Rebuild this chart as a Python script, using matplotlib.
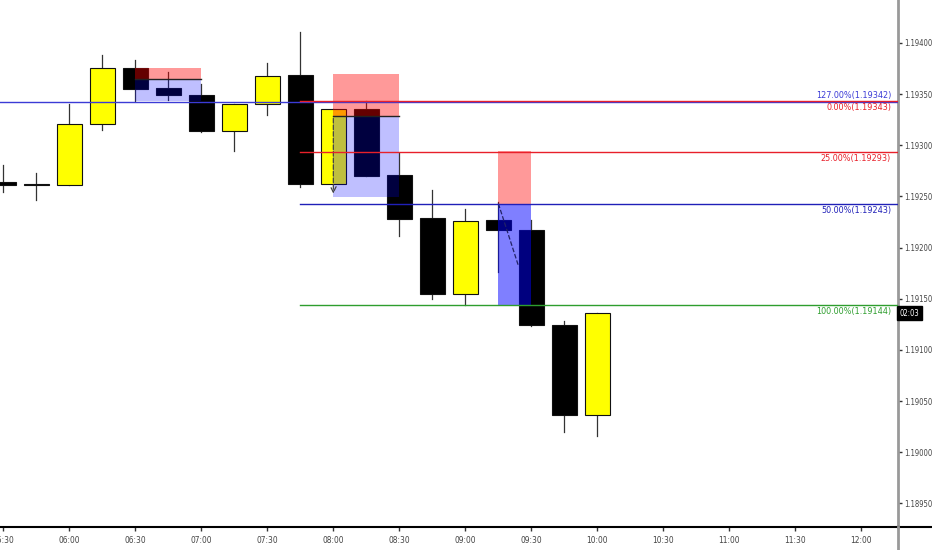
import matplotlib
matplotlib.use('Agg')
import matplotlib.pyplot as plt
from matplotlib.patches import Rectangle
from matplotlib.lines import Line2D

plt.rcParams['font.family'] = ['DejaVu Sans']
plt.rcParams['font.stretch'] = 'condensed'

# 15 minute candles
times = ['05:30', '05:45', '06:00', '06:15', '06:30', '06:45', '07:00', '07:15', '07:30', '07:45',
         '08:00', '08:15', '08:30', '08:45', '09:00', '09:15', '09:30', '09:45', '10:00']
opens = [1.19264, 1.19262, 1.19261, 1.19321, 1.19376, 1.19356, 1.19349, 1.19314, 1.19340, 1.19369,
         1.19262, 1.19335, 1.19271, 1.19229, 1.19155, 1.19227, 1.19217, 1.19124, 1.19036]
highs = [1.19281, 1.19273, 1.19340, 1.19388, 1.19383, 1.19372, 1.19360, 1.19340, 1.19380, 1.19411,
         1.19335, 1.19343, 1.19292, 1.19256, 1.19238, 1.19245, 1.19227, 1.19128, 1.19136]
lows = [1.19254, 1.19247, 1.19261, 1.19315, 1.19343, 1.19344, 1.19313, 1.19294, 1.19330, 1.19259,
        1.19262, 1.19270, 1.19211, 1.19150, 1.19144, 1.19176, 1.19123, 1.19020, 1.19016]
closes = [1.19261, 1.19261, 1.19321, 1.19376, 1.19355, 1.19349, 1.19314, 1.19340, 1.19368, 1.19262,
          1.19335, 1.19270, 1.19228, 1.19155, 1.19226, 1.19217, 1.19124, 1.19036, 1.19136]

tick_labels = ['05:30', '06:00', '06:30', '07:00', '07:30', '08:00', '08:30', '09:00',
               '09:30', '10:00', '10:30', '11:00', '11:30', '12:00']
price_ticks = [1.18950, 1.19000, 1.19050, 1.19100, 1.19150, 1.19200, 1.19250, 1.19300, 1.19350, 1.19400]

# fib levels (anchored at 07:45)
fib_anchor = '07:45'
fib_levels = [1.19342, 1.19343, 1.19293, 1.19243, 1.19144]
fib_labels = ['127.00%(1.19342)', '0.00%(1.19343)', '25.00%(1.19293)', '50.00%(1.19243)', '100.00%(1.19144)']

# short position tools
pos_start = ['06:30', '08:00', '09:15']
pos_end = ['07:00', '08:30', '09:30']
pos_entry = [1.19365, 1.19329, 1.19243]
pos_stop = [1.19376, 1.19370, 1.19294]
pos_target = [1.19343, 1.19249, 1.19143]

countdown = '02:03'


def idx(t):  # time string -> candle index
    h, m = t.split(':')
    return (int(h) * 60 + int(m) - 330) / 15.0


fig = plt.figure(figsize=(9.32, 5.5), dpi=100)
ax = fig.add_axes([0, 0.0424, 0.9632, 0.9576])

w = 0.76
for i in range(len(times)):
    x = idx(times[i])
    o, h, l, c = opens[i], highs[i], lows[i], closes[i]
    ax.plot([x, x], [l, h], color='#333333', lw=0.9, zorder=2)
    col = '#ffff00' if c > o else '#000000'
    bot = min(o, c)
    hgt = max(abs(c - o), 0.000015)
    ax.add_patch(Rectangle((x - w / 2, bot), w, hgt, facecolor=col, edgecolor='#111111', lw=0.8, zorder=3))

# position boxes (red = stop, blue = target)
blue_alpha = [0.25, 0.25, 0.5]
for k in range(len(pos_start)):
    x0 = idx(pos_start[k])
    x1 = idx(pos_end[k])
    ax.add_patch(Rectangle((x0, pos_entry[k]), x1 - x0, pos_stop[k] - pos_entry[k],
                           facecolor='#ff0000', alpha=0.4, lw=0, zorder=4))
    ax.add_patch(Rectangle((x0, pos_target[k]), x1 - x0, pos_entry[k] - pos_target[k],
                           facecolor='#0000ff', alpha=blue_alpha[k], lw=0, zorder=4))
    if k < 2:
        ax.plot([x0, x1], [pos_entry[k], pos_entry[k]], color='#222222', lw=1, zorder=5)

# dashed trade paths
ax.annotate('', xy=(idx('08:00'), 1.19250), xytext=(idx('08:00'), 1.19329),
            arrowprops=dict(arrowstyle='->', color='#444444', lw=0.9, ls='--'), zorder=6)
ax.plot([idx('09:15'), idx('09:24')], [1.19243, 1.19183], color='#222266', lw=0.9, ls='--', zorder=6)

# fib lines
fib_colors = ['#3b3bd6', '#e8202a', '#e8202a', '#2020b8', '#2e9e2e']
x_a = idx(fib_anchor)
ax.plot([-1, 28], [fib_levels[0]] * 2, color=fib_colors[0], lw=1, zorder=7)
for k in range(1, len(fib_levels)):
    ax.plot([x_a, 28], [fib_levels[k]] * 2, color=fib_colors[k], lw=1, zorder=7)

xr = 26.9
ax.text(xr, fib_levels[0] + 0.00002, fib_labels[0], color=fib_colors[0], fontsize=6.5, ha='right', va='bottom', zorder=8)
for k in range(1, len(fib_levels)):
    ax.text(xr, fib_levels[k] - 0.00002, fib_labels[k], color=fib_colors[k], fontsize=6.5, ha='right', va='top', zorder=8)

ax.set_xlim(-0.1, 27.1)
ax.set_ylim(1.189272, 1.194420)

ax.set_xticks([idx(t) for t in tick_labels])
ax.set_xticklabels(tick_labels, fontsize=6, color='#444444')
ax.set_yticks(price_ticks)
ax.set_yticklabels(['%.5f' % p for p in price_ticks], fontsize=5.5, color='#444444')
ax.yaxis.tick_right()
ax.tick_params(axis='y', length=3, width=1, color='#333333', pad=2)
ax.tick_params(axis='x', length=3, width=1, color='#333333', pad=4)

for s in ['top', 'left']:
    ax.spines[s].set_visible(False)
ax.spines['right'].set_color('#999999')
ax.spines['right'].set_linewidth(2)
ax.spines['bottom'].set_color('#000000')
ax.spines['bottom'].set_linewidth(1.5)

# extend frame lines over the scales
fig.add_artist(Line2D([0.9632, 1], [0.0424, 0.0424], color='#000000', lw=1.5))
fig.add_artist(Line2D([0.9632, 0.9632], [0, 0.0424], color='#999999', lw=2))

# countdown tag on price scale
ax.text(1.002, closes[-1], countdown, transform=ax.get_yaxis_transform(), fontsize=5.5, color='white',
        va='center', ha='left', clip_on=False,
        bbox=dict(boxstyle='square,pad=0.3', facecolor='black', edgecolor='black'))

plt.savefig('out.png', dpi=100, facecolor='white')
